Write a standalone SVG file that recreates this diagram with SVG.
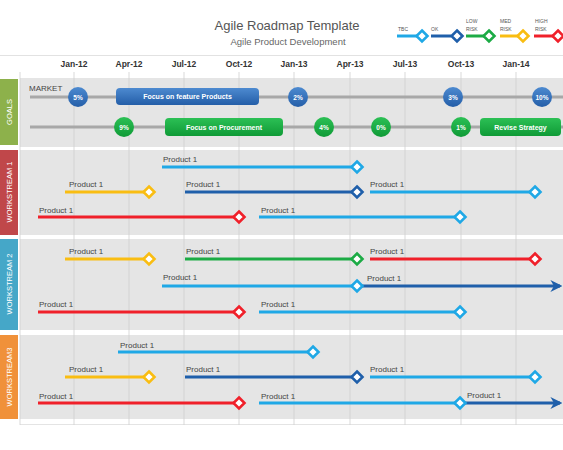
<svg xmlns="http://www.w3.org/2000/svg" xmlns:xlink="http://www.w3.org/1999/xlink" width="563" height="450" viewBox="0 0 563 450">
<style>
text{font-family:"Liberation Sans",Arial,sans-serif}
.t{fill:#555;font-size:13px;text-anchor:middle}
.st{fill:#666;font-size:9.5px;text-anchor:middle}
.m{fill:#333;font-size:8.5px;font-weight:bold;text-anchor:middle}
.p{fill:#444;font-size:8px}
.lg{fill:#555;font-size:5px}
.side{fill:#fff;font-size:7.5px;text-anchor:middle}
.ct{fill:#fff;font-size:6.5px;font-weight:bold;text-anchor:middle}
.bt{fill:#fff;font-size:7px;font-weight:bold;text-anchor:middle}
.panel{fill:#e5e5e5}
.grid{stroke:#cfcfcf;stroke-width:0.8}
.gl{stroke:#a8a8a8;stroke-width:3}
.ln{stroke-width:3;fill:none}
.dm{fill:#fff;stroke-width:2.6}
.lb{stroke:#1fa8e6}
.db{stroke:#1f5faa}
.gr{stroke:#1cab45}
.ye{stroke:#f9bd12}
.rd{stroke:#f0202a}
</style>
<defs>
<path id="d" d="M0,-5.5 L5.5,0 L0,5.5 L-5.5,0Z"/>
<marker id="arr" viewBox="0 0 10 10" refX="8" refY="5" markerWidth="4" markerHeight="4" orient="auto" markerUnits="strokeWidth">
<path d="M0,0 L10,5 L0,10 L3,5Z" fill="#1f5faa"/>
</marker>
<linearGradient id="gb" x1="0" y1="0" x2="0" y2="1"><stop offset="0" stop-color="#4d8ad0"/><stop offset="1" stop-color="#245ea8"/></linearGradient>
<linearGradient id="gg" x1="0" y1="0" x2="0" y2="1"><stop offset="0" stop-color="#2cc055"/><stop offset="1" stop-color="#0f9a36"/></linearGradient>
</defs>

<g id="header">
<text class="t" x="287" y="30">Agile Roadmap Template</text>
<text class="st" x="288" y="45">Agile Product  Development</text>
<line x1="0" y1="55.5" x2="563" y2="55.5" stroke="#e2e2e2" stroke-width="1"/>
</g>

<g id="legend">
<text class="lg" x="398" y="31">TBC</text>
<line class="ln lb" x1="397" y1="36" x2="417" y2="36"/>
<use href="#d" class="dm lb" x="422" y="36"/>
<text class="lg" x="431" y="31">OK</text>
<line class="ln db" x1="431" y1="36" x2="451" y2="36"/>
<use href="#d" class="dm db" x="457" y="36"/>
<text class="lg" x="466" y="23">LOW</text>
<text class="lg" x="466" y="31">RISK</text>
<line class="ln gr" x1="466" y1="36" x2="484" y2="36"/>
<use href="#d" class="dm gr" x="489" y="36"/>
<text class="lg" x="500" y="23">MED</text>
<text class="lg" x="500" y="31">RISK</text>
<line class="ln ye" x1="500" y1="36" x2="518" y2="36"/>
<use href="#d" class="dm ye" x="523" y="36"/>
<text class="lg" x="535" y="23">HIGH</text>
<text class="lg" x="535" y="31">RISK</text>
<line class="ln rd" x1="534" y1="36" x2="553" y2="36"/>
<use href="#d" class="dm rd" x="558" y="36"/>
</g>

<g id="months">
<text class="m" x="74" y="67">Jan-12</text>
<text class="m" x="129" y="67">Apr-12</text>
<text class="m" x="184" y="67">Jul-12</text>
<text class="m" x="239" y="67">Oct-12</text>
<text class="m" x="294" y="67">Jan-13</text>
<text class="m" x="350" y="67">Apr-13</text>
<text class="m" x="405" y="67">Jul-13</text>
<text class="m" x="461" y="67">Oct-13</text>
<text class="m" x="516" y="67">Jan-14</text>
</g>

<g id="panels">
<rect class="panel" x="20" y="78" width="543" height="69"/>
<rect class="panel" x="20" y="150" width="543" height="85"/>
<rect class="panel" x="20" y="239" width="543" height="91"/>
<rect class="panel" x="20" y="335" width="543" height="84"/>
<line x1="20" y1="424.5" x2="563" y2="424.5" stroke="#e4e4e4"/>
</g>

<g id="grid">
<line class="grid" x1="20" y1="72" x2="20" y2="425"/>
<line class="grid" x1="74" y1="72" x2="74" y2="425"/>
<line class="grid" x1="129" y1="72" x2="129" y2="425"/>
<line class="grid" x1="184" y1="72" x2="184" y2="425"/>
<line class="grid" x1="239" y1="72" x2="239" y2="425"/>
<line class="grid" x1="294" y1="72" x2="294" y2="425"/>
<line class="grid" x1="350" y1="72" x2="350" y2="425"/>
<line class="grid" x1="405" y1="72" x2="405" y2="425"/>
<line class="grid" x1="461" y1="72" x2="461" y2="425"/>
<line class="grid" x1="516" y1="72" x2="516" y2="425"/>
</g>

<g id="lane-goals">
<rect x="0" y="79" width="18" height="66" fill="#8db14b"/>
<text class="side" transform="translate(12,112) rotate(-90)">GOALS</text>
</g>
<g id="lane-ws1">
<rect x="0" y="150" width="18" height="85" fill="#c0474a"/>
<text class="side" transform="translate(12,192) rotate(-90)">WORKSTREAM 1</text>
</g>
<g id="lane-ws2">
<rect x="0" y="239" width="18" height="91" fill="#45a7c8"/>
<text class="side" transform="translate(12,284) rotate(-90)">WORKSTREAM 2</text>
</g>
<g id="lane-ws3">
<rect x="0" y="335" width="18" height="84" fill="#f0913a"/>
<text class="side" transform="translate(12,377) rotate(-90)">WORKSTREAM3</text>
</g>

<g id="connectors">
<line class="gl" x1="30" y1="97" x2="563" y2="97"/>
<line class="gl" x1="30" y1="127" x2="563" y2="127"/>
</g>

<text class="p" x="29" y="91">MARKET</text>

<g id="g-5"><circle cx="78" cy="97" r="10" fill="url(#gb)"/><text class="ct" x="78" y="99.5">5%</text></g>
<g id="g-feature"><rect x="116" y="88" width="143" height="17" rx="4" fill="url(#gb)"/><text class="bt" x="187.5" y="99">Focus on feature Products</text></g>
<g id="g-2"><circle cx="298" cy="97" r="10" fill="url(#gb)"/><text class="ct" x="298" y="99.5">2%</text></g>
<g id="g-3"><circle cx="453" cy="97" r="10" fill="url(#gb)"/><text class="ct" x="453" y="99.5">3%</text></g>
<g id="g-10"><circle cx="542" cy="97" r="10" fill="url(#gb)"/><text class="ct" x="542" y="99.5">10%</text></g>

<g id="g-9"><circle cx="124" cy="127" r="10" fill="url(#gg)"/><text class="ct" x="124" y="129.5">9%</text></g>
<g id="g-proc"><rect x="165" y="118" width="118" height="18" rx="4" fill="url(#gg)"/><text class="bt" x="224" y="129.5">Focus on Procurement</text></g>
<g id="g-4"><circle cx="324" cy="127" r="10" fill="url(#gg)"/><text class="ct" x="324" y="129.5">4%</text></g>
<g id="g-0"><circle cx="381" cy="127" r="10" fill="url(#gg)"/><text class="ct" x="381" y="129.5">0%</text></g>
<g id="g-1"><circle cx="461" cy="127" r="10" fill="url(#gg)"/><text class="ct" x="461" y="129.5">1%</text></g>
<g id="g-revise"><rect x="480" y="118" width="81" height="18" rx="4" fill="url(#gg)"/><text class="bt" x="520.5" y="129.5">Revise Strategy</text></g>

<!-- Workstream 1 -->
<g id="ws1-a1"><text class="p" x="163" y="162">Product 1</text><line class="ln lb" x1="162" y1="167" x2="352" y2="167"/><use href="#d" class="dm lb" x="357" y="167"/></g>
<g id="ws1-b1"><text class="p" x="69" y="187">Product 1</text><line class="ln ye" x1="65" y1="192" x2="144" y2="192"/><use href="#d" class="dm ye" x="149" y="192"/></g>
<g id="ws1-b2"><text class="p" x="186" y="187">Product 1</text><line class="ln db" x1="185" y1="192" x2="352" y2="192"/><use href="#d" class="dm db" x="357" y="192"/></g>
<g id="ws1-b3"><text class="p" x="370" y="187">Product 1</text><line class="ln lb" x1="370" y1="192" x2="530" y2="192"/><use href="#d" class="dm lb" x="535" y="192"/></g>
<g id="ws1-c1"><text class="p" x="39" y="213">Product 1</text><line class="ln rd" x1="38" y1="217" x2="234" y2="217"/><use href="#d" class="dm rd" x="239" y="217"/></g>
<g id="ws1-c2"><text class="p" x="261" y="213">Product 1</text><line class="ln lb" x1="259" y1="217" x2="455" y2="217"/><use href="#d" class="dm lb" x="460" y="217"/></g>

<!-- Workstream 2 -->
<g id="ws2-a1"><text class="p" x="69" y="254">Product 1</text><line class="ln ye" x1="65" y1="259" x2="144" y2="259"/><use href="#d" class="dm ye" x="149" y="259"/></g>
<g id="ws2-a2"><text class="p" x="186" y="254">Product 1</text><line class="ln gr" x1="185" y1="259" x2="352" y2="259"/><use href="#d" class="dm gr" x="357" y="259"/></g>
<g id="ws2-a3"><text class="p" x="370" y="254">Product 1</text><line class="ln rd" x1="370" y1="259" x2="530" y2="259"/><use href="#d" class="dm rd" x="535" y="259"/></g>
<g id="ws2-b2"><text class="p" x="367" y="281">Product 1</text><line class="ln db" x1="357" y1="286" x2="560" y2="286" marker-end="url(#arr)"/></g>
<g id="ws2-b1"><text class="p" x="163" y="280">Product 1</text><line class="ln lb" x1="162" y1="286" x2="352" y2="286"/><use href="#d" class="dm lb" x="357" y="286"/></g>
<g id="ws2-c1"><text class="p" x="39" y="307">Product 1</text><line class="ln rd" x1="38" y1="312" x2="234" y2="312"/><use href="#d" class="dm rd" x="239" y="312"/></g>
<g id="ws2-c2"><text class="p" x="261" y="307">Product 1</text><line class="ln lb" x1="259" y1="312" x2="455" y2="312"/><use href="#d" class="dm lb" x="460" y="312"/></g>

<!-- Workstream 3 -->
<g id="ws3-a1"><text class="p" x="120" y="348">Product 1</text><line class="ln lb" x1="118" y1="352" x2="308" y2="352"/><use href="#d" class="dm lb" x="313" y="352"/></g>
<g id="ws3-b1"><text class="p" x="69" y="372">Product 1</text><line class="ln ye" x1="65" y1="377" x2="144" y2="377"/><use href="#d" class="dm ye" x="149" y="377"/></g>
<g id="ws3-b2"><text class="p" x="186" y="372">Product 1</text><line class="ln db" x1="185" y1="377" x2="352" y2="377"/><use href="#d" class="dm db" x="357" y="377"/></g>
<g id="ws3-b3"><text class="p" x="370" y="372">Product 1</text><line class="ln lb" x1="370" y1="377" x2="530" y2="377"/><use href="#d" class="dm lb" x="535" y="377"/></g>
<g id="ws3-c3"><text class="p" x="467" y="398">Product 1</text><line class="ln db" x1="460" y1="403" x2="560" y2="403" marker-end="url(#arr)"/></g>
<g id="ws3-c1"><text class="p" x="39" y="399">Product 1</text><line class="ln rd" x1="38" y1="403" x2="234" y2="403"/><use href="#d" class="dm rd" x="239" y="403"/></g>
<g id="ws3-c2"><text class="p" x="261" y="399">Product 1</text><line class="ln lb" x1="259" y1="403" x2="455" y2="403"/><use href="#d" class="dm lb" x="460" y="403"/></g>
</svg>
